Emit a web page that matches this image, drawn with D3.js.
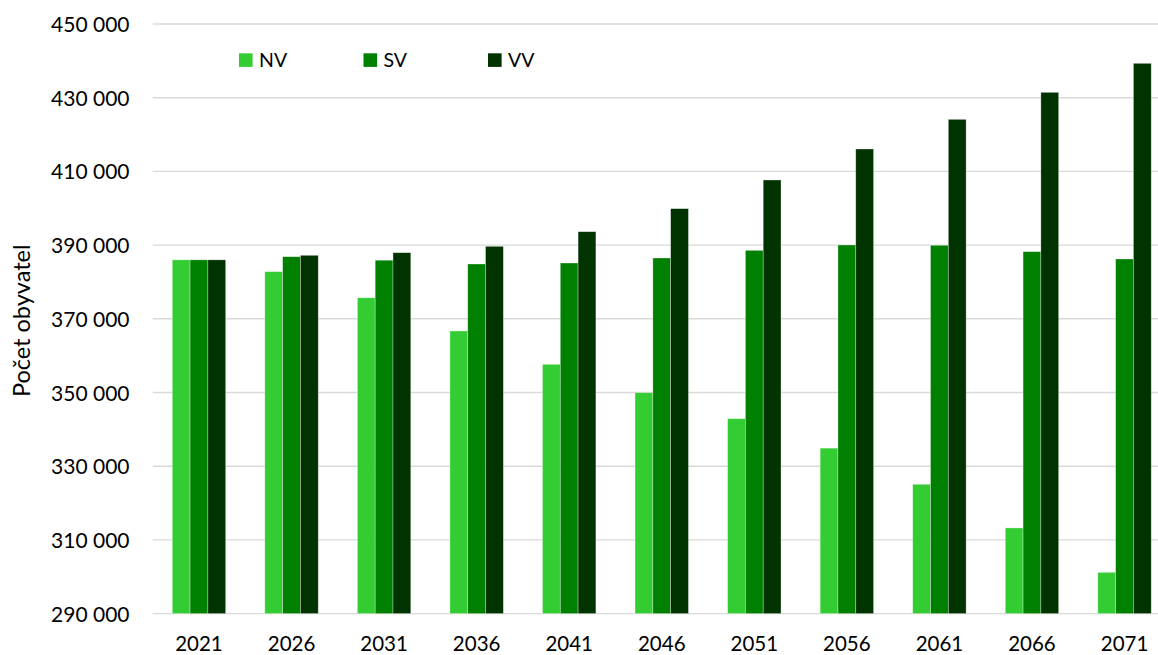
<!DOCTYPE html>
<html>
<head>
<meta charset="utf-8">
<script src="https://cdn.jsdelivr.net/npm/d3@7"></script>
<style>
  html, body { margin: 0; padding: 0; background: #fff; }
  svg { display: block; font-family: Lato, "Open Sans", sans-serif; }
</style>
</head>
<body>
<svg id="chart" width="1158" height="655"></svg>
<script>
const categories = ["2021","2026","2031","2036","2041","2046","2051","2056","2061","2066","2071"];
const seriesNames = ["NV","SV","VV"];
const nvValues = [386000, 382800, 375700, 366700, 357650, 349950, 342900, 334900, 325100, 313250, 301200];
const svValues = [386000, 386850, 385900, 384870, 385140, 386500, 388580, 390030, 389950, 388220, 386230];
const vvValues = [386000, 387230, 387940, 389670, 393640, 399890, 407670, 416080, 424130, 431460, 439330];
const yTicks = [290000, 310000, 330000, 350000, 370000, 390000, 410000, 430000, 450000];
const yTitle = "Počet obyvatel";
const colors = ["#33CC33", "#008000", "#003300"];

const series = [nvValues, svValues, vvValues];
const W = 1158, H = 655;
const plot = { left: 152.7, right: 1170.8, top: 24, bottom: 613.6 };

const svg = d3.select("#chart");

const y = d3.scaleLinear().domain([290000, 450000]).range([plot.bottom, plot.top]);
const x0 = d3.scaleBand().domain(categories).range([plot.left, plot.right])
  .paddingInner(0.423).paddingOuter(0.2115);
const x1 = d3.scaleBand().domain(seriesNames).range([0, x0.bandwidth()]).padding(0);

const fmt = v => d3.format(",")(v).replace(/,/g, " ");

// gridlines
svg.append("g").selectAll("line").data(yTicks).join("line")
  .attr("x1", plot.left).attr("x2", W)
  .attr("y1", d => y(d)).attr("y2", d => y(d))
  .attr("stroke", "#D9D9D9").attr("stroke-width", 1.4);

// y axis labels
const yAxis = d3.axisLeft(y).tickValues(yTicks).tickFormat(fmt).tickSize(0).tickPadding(0);
const gy = svg.append("g").attr("transform", `translate(129.5,0)`).call(yAxis);
gy.select(".domain").remove();
gy.selectAll("text").attr("font-size", 21).attr("fill", "#000")
  .attr("font-family", "Lato, 'Open Sans', sans-serif").attr("dy", "0.36em");

// x axis labels
const xAxis = d3.axisBottom(x0).tickSize(0).tickPadding(0);
const gx = svg.append("g").attr("transform", `translate(0,${plot.bottom})`).call(xAxis);
gx.select(".domain").remove();
gx.selectAll("text").attr("font-size", 20.5).attr("fill", "#000")
  .attr("font-family", "Lato, 'Open Sans', sans-serif").attr("dy", 0).attr("y", 37.3);

// bars
const groups = svg.append("g").selectAll("g").data(categories).join("g")
  .attr("transform", d => `translate(${x0(d)},0)`);
groups.selectAll("rect")
  .data((c, i) => seriesNames.map((s, k) => ({ s, k, v: series[k][i] })))
  .join("rect")
  .attr("x", d => x1(d.s))
  .attr("width", x1.bandwidth())
  .attr("y", d => y(d.v))
  .attr("height", d => y(290000) - y(d.v))
  .attr("fill", d => colors[d.k])
  .attr("stroke", "rgba(255,255,255,0.45)")
  .attr("stroke-width", 0.7);

// legend
const legendX = d3.scalePoint().domain(seriesNames).range([239, 488]);
const lg = svg.append("g").selectAll("g").data(seriesNames).join("g")
  .attr("transform", d => `translate(${legendX(d)},53.3)`);
lg.append("rect").attr("width", 13.6).attr("height", 13.6)
  .attr("fill", (d, i) => colors[i]);
lg.append("text").attr("x", 20).attr("y", 13.5)
  .attr("font-size", 19.5).attr("fill", "#000").text(d => d);

// y title
svg.append("text")
  .attr("transform", `translate(30,${(plot.top + plot.bottom) / 2 + 2}) rotate(-90)`)
  .attr("text-anchor", "middle")
  .attr("font-size", 23.5).attr("fill", "#000")
  .text(yTitle);
</script>
</body>
</html>
